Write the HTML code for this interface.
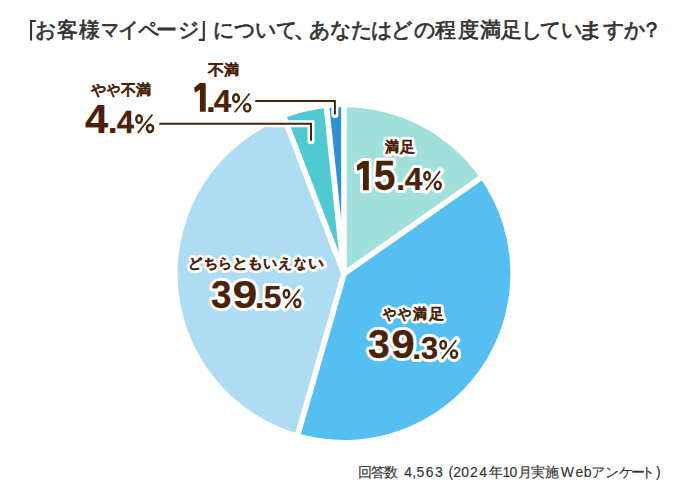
<!DOCTYPE html>
<html lang="ja"><head><meta charset="utf-8"><title>お客様マイページ満足度</title>
<style>
html,body{margin:0;padding:0;background:#fff;}
body{width:688px;height:488px;overflow:hidden;position:relative;font-family:"Liberation Sans",sans-serif;}
svg{position:absolute;left:0;top:0;font-family:"Liberation Sans",sans-serif;}
</style></head><body>
<svg width="688" height="488" viewBox="0 0 688 488">
<text x="35.20 56.50 79.10 118.30 137.60 156.30 178.20 212.70 233.50 254.90 275.60 309.20 330.00 350.80 370.60 390.50 413.70 434.60 458.00 479.50 500.60 520.50 539.80 561.00 603.10 623.80 640.80" y="37.0" font-size="21" font-weight="400" fill="#333333" stroke="#333333" stroke-width="0.7">お客様イページについてあなたはどの程度満足していすか？</text><text transform="matrix(0.853 0 0 1 101.15 37.0)" font-size="21" font-weight="400" fill="#333333" stroke="#333333" stroke-width="0.7">マ</text><text transform="matrix(1.220 0 0 1 292.96 37.0)" font-size="21" font-weight="400" fill="#333333" stroke="#333333" stroke-width="0.7">、</text><text transform="matrix(1.292 0 0 1 577.23 37.0)" font-size="21" font-weight="400" fill="#333333" stroke="#333333" stroke-width="0.7">ま</text><path d="M30,20 H35.8 V22.1 H32.1 V40.6 H30 Z M202.8,20.9 H204.9 V40.9 H198.8 V38.8 H202.8 Z" fill="#333333"/>
<path d="M344.0,273.6 L344.00,107.20 A166.4,166.4 0 0 1 480.31,178.16 Z" fill="#a1dfda"/>
<path d="M344.0,273.6 L480.31,178.16 A166.4,166.4 0 0 1 298.13,433.55 Z" fill="#56bff1"/>
<path d="M344.0,273.6 L298.13,433.55 A166.4,166.4 0 0 1 284.37,118.25 Z" fill="#addcf3"/>
<path d="M344.0,273.6 L284.37,118.25 A166.4,166.4 0 0 1 326.61,108.11 Z" fill="#51c9d3"/>
<path d="M344.0,273.6 L326.61,108.11 A166.4,166.4 0 0 1 344.00,107.20 Z" fill="#308fd9"/>
<g stroke="#fff" stroke-width="5.7">
<line x1="344.0" y1="273.6" x2="344.00" y2="101.20"/>
<line x1="344.0" y1="273.6" x2="485.22" y2="174.72"/>
<line x1="344.0" y1="273.6" x2="296.48" y2="439.32"/>
<line x1="344.0" y1="273.6" x2="282.22" y2="112.65"/>
<line x1="344.0" y1="273.6" x2="325.98" y2="102.14"/>
</g>
<g fill="none">
<path d="M255.2,100.9 H334.9 V114.6" stroke="#fff" stroke-width="7" stroke-linecap="round"/>
<path d="M159.3,123.8 H311 V140.7" stroke="#fff" stroke-width="7" stroke-linecap="round"/>
<path d="M255.2,100.9 H334.9 V114.6" stroke="#4a2208" stroke-width="2"/>
<path d="M159.3,123.8 H311 V140.7" stroke="#4a2208" stroke-width="2"/>
</g>
<text x="224.10" y="75.2" font-size="15" font-weight="400" fill="#4a2208" stroke="#4a2208" stroke-width="0.9">満</text><text transform="matrix(1.071 0 0 1 208.00 75.2)" font-size="15" font-weight="400" fill="#4a2208" stroke="#4a2208" stroke-width="0.9">不</text>
<text x="90.50 121.00 136.30" y="95.4" font-size="15" font-weight="400" fill="#4a2208" stroke="#4a2208" stroke-width="0.9">や不満</text><text transform="matrix(0.873 0 0 1 106.80 95.4)" font-size="15" font-weight="400" fill="#4a2208" stroke="#4a2208" stroke-width="0.9">や</text>
<text x="400.30" y="151.5" font-size="15" font-weight="400" fill="#fff" stroke="#fff" stroke-width="6.4" stroke-linejoin="round">足</text><text transform="matrix(0.927 0 0 1 385.00 151.5)" font-size="15" font-weight="400" fill="#fff" stroke="#fff" stroke-width="6.4" stroke-linejoin="round">満</text><text x="400.30" y="151.5" font-size="15" font-weight="400" fill="#4a2208" stroke="#4a2208" stroke-width="0.9">足</text><text transform="matrix(0.927 0 0 1 385.00 151.5)" font-size="15" font-weight="400" fill="#4a2208" stroke="#4a2208" stroke-width="0.9">満</text>
<text x="188.30 204.00 217.80 263.00 277.80" y="268.4" font-size="14" font-weight="400" fill="#fff" stroke="#fff" stroke-width="6.4" stroke-linejoin="round">どちらいえ</text><text transform="matrix(1.160 0 0 1 232.18 268.4)" font-size="14" font-weight="400" fill="#fff" stroke="#fff" stroke-width="6.4" stroke-linejoin="round">と</text><text transform="matrix(1.160 0 0 1 246.98 268.4)" font-size="14" font-weight="400" fill="#fff" stroke="#fff" stroke-width="6.4" stroke-linejoin="round">も</text><text transform="matrix(0.892 0 0 1 293.50 268.4)" font-size="14" font-weight="400" fill="#fff" stroke="#fff" stroke-width="6.4" stroke-linejoin="round">な</text><text transform="matrix(1.138 0 0 1 308.16 268.4)" font-size="14" font-weight="400" fill="#fff" stroke="#fff" stroke-width="6.4" stroke-linejoin="round">い</text><text x="188.30 204.00 217.80 263.00 277.80" y="268.4" font-size="14" font-weight="400" fill="#4a2208" stroke="#4a2208" stroke-width="0.9">どちらいえ</text><text transform="matrix(1.160 0 0 1 232.18 268.4)" font-size="14" font-weight="400" fill="#4a2208" stroke="#4a2208" stroke-width="0.9">と</text><text transform="matrix(1.160 0 0 1 246.98 268.4)" font-size="14" font-weight="400" fill="#4a2208" stroke="#4a2208" stroke-width="0.9">も</text><text transform="matrix(0.892 0 0 1 293.50 268.4)" font-size="14" font-weight="400" fill="#4a2208" stroke="#4a2208" stroke-width="0.9">な</text><text transform="matrix(1.138 0 0 1 308.16 268.4)" font-size="14" font-weight="400" fill="#4a2208" stroke="#4a2208" stroke-width="0.9">い</text>
<text x="429.00" y="319.1" font-size="15" font-weight="400" fill="#fff" stroke="#fff" stroke-width="6.4" stroke-linejoin="round">足</text><text transform="matrix(0.880 0 0 1 383.20 319.1)" font-size="15" font-weight="400" fill="#fff" stroke="#fff" stroke-width="6.4" stroke-linejoin="round">や</text><text transform="matrix(0.887 0 0 1 398.10 319.1)" font-size="15" font-weight="400" fill="#fff" stroke="#fff" stroke-width="6.4" stroke-linejoin="round">や</text><text transform="matrix(0.920 0 0 1 413.00 319.1)" font-size="15" font-weight="400" fill="#fff" stroke="#fff" stroke-width="6.4" stroke-linejoin="round">満</text><text x="429.00" y="319.1" font-size="15" font-weight="400" fill="#4a2208" stroke="#4a2208" stroke-width="0.9">足</text><text transform="matrix(0.880 0 0 1 383.20 319.1)" font-size="15" font-weight="400" fill="#4a2208" stroke="#4a2208" stroke-width="0.9">や</text><text transform="matrix(0.887 0 0 1 398.10 319.1)" font-size="15" font-weight="400" fill="#4a2208" stroke="#4a2208" stroke-width="0.9">や</text><text transform="matrix(0.920 0 0 1 413.00 319.1)" font-size="15" font-weight="400" fill="#4a2208" stroke="#4a2208" stroke-width="0.9">満</text>
<g><path d="M199.90,83.10 H205.70 V111.70 H199.90 V89.82 L194.80,92.82 L194.20,87.39 Z" fill="#4a2208"/><text transform="matrix(0.3500 0 0 0.3067 206.05 111.80)" font-size="100" font-weight="700" fill="#4a2208" stroke="#4a2208" stroke-width="0.76">.</text><text transform="matrix(0.3151 0 0 0.3159 213.77 112.00)" font-size="100" font-weight="700" fill="#4a2208" stroke="#4a2208" stroke-width="0.79">4</text><g fill="none" stroke="#4a2208"><ellipse cx="236.03" cy="98.13" rx="2.84" ry="3.92" stroke-width="2.4"/><ellipse cx="247.22" cy="107.64" rx="3.10" ry="3.76" stroke-width="2.4"/><line x1="249.59" y1="93.48" x2="234.81" y2="112.30" stroke-width="1.7" stroke-linecap="butt"/></g></g>
<g><text transform="matrix(0.4170 0 0 0.4101 85.07 132.70)" font-size="100" font-weight="700" fill="#4a2208" stroke="#4a2208" stroke-width="0.60">4</text><text transform="matrix(0.3500 0 0 0.3267 107.75 132.70)" font-size="100" font-weight="700" fill="#4a2208" stroke="#4a2208" stroke-width="0.74">.</text><text transform="matrix(0.3113 0 0 0.3159 116.78 132.80)" font-size="100" font-weight="700" fill="#4a2208" stroke="#4a2208" stroke-width="0.80">4</text><g fill="none" stroke="#4a2208"><ellipse cx="139.07" cy="119.09" rx="2.80" ry="3.82" stroke-width="2.4"/><ellipse cx="150.09" cy="128.35" rx="3.05" ry="3.67" stroke-width="2.4"/><line x1="152.43" y1="114.56" x2="137.88" y2="132.90" stroke-width="1.7" stroke-linecap="butt"/></g></g>
<g><path d="M363.00,161.00 H368.80 V190.30 H363.00 V167.89 L357.30,170.96 L356.70,165.40 Z" fill="#fff" stroke="#fff" stroke-width="6" stroke-linejoin="round"/><text transform="matrix(0.3900 0 0 0.4186 373.83 189.88)" font-size="100" font-weight="700" fill="#fff" stroke="#fff" stroke-linejoin="round" stroke-width="15.47">5</text><text transform="matrix(0.3214 0 0 0.3133 396.25 189.50)" font-size="100" font-weight="700" fill="#fff" stroke="#fff" stroke-linejoin="round" stroke-width="19.69">.</text><text transform="matrix(0.3208 0 0 0.3203 404.86 189.80)" font-size="100" font-weight="700" fill="#fff" stroke="#fff" stroke-linejoin="round" stroke-width="19.50">4</text><g fill="none" stroke="#fff"><ellipse cx="427.07" cy="175.90" rx="2.71" ry="3.90" stroke-width="8.4"/><ellipse cx="437.74" cy="185.36" rx="2.95" ry="3.74" stroke-width="8.4"/><line x1="440.01" y1="171.28" x2="425.91" y2="190.00" stroke-width="7.7" stroke-linecap="round"/></g><path d="M363.00,161.00 H368.80 V190.30 H363.00 V167.89 L357.30,170.96 L356.70,165.40 Z" fill="#4a2208"/><text transform="matrix(0.3900 0 0 0.4186 373.83 189.88)" font-size="100" font-weight="700" fill="#4a2208" stroke="#4a2208" stroke-width="0.62">5</text><text transform="matrix(0.3214 0 0 0.3133 396.25 189.50)" font-size="100" font-weight="700" fill="#4a2208" stroke="#4a2208" stroke-width="0.79">.</text><text transform="matrix(0.3208 0 0 0.3203 404.86 189.80)" font-size="100" font-weight="700" fill="#4a2208" stroke="#4a2208" stroke-width="0.78">4</text><g fill="none" stroke="#4a2208"><ellipse cx="427.07" cy="175.90" rx="2.71" ry="3.90" stroke-width="2.4"/><ellipse cx="437.74" cy="185.36" rx="2.95" ry="3.74" stroke-width="2.4"/><line x1="440.01" y1="171.28" x2="425.91" y2="190.00" stroke-width="1.7" stroke-linecap="butt"/></g></g>
<g><text transform="matrix(0.3680 0 0 0.3944 210.96 308.01)" font-size="100" font-weight="700" fill="#fff" stroke="#fff" stroke-linejoin="round" stroke-width="16.41">3</text><text transform="matrix(0.4458 0 0 0.3944 232.42 307.61)" font-size="100" font-weight="700" fill="#fff" stroke="#fff" stroke-linejoin="round" stroke-width="14.91">9</text><text transform="matrix(0.3500 0 0 0.3200 254.85 307.70)" font-size="100" font-weight="700" fill="#fff" stroke="#fff" stroke-linejoin="round" stroke-width="18.68">.</text><text transform="matrix(0.3180 0 0 0.3114 263.65 307.59)" font-size="100" font-weight="700" fill="#fff" stroke="#fff" stroke-linejoin="round" stroke-width="19.86">5</text><g fill="none" stroke="#fff"><ellipse cx="286.44" cy="293.87" rx="2.77" ry="3.88" stroke-width="8.4"/><ellipse cx="297.34" cy="303.28" rx="3.02" ry="3.72" stroke-width="8.4"/><line x1="299.66" y1="289.28" x2="285.25" y2="307.90" stroke-width="7.7" stroke-linecap="round"/></g><text transform="matrix(0.3680 0 0 0.3944 210.96 308.01)" font-size="100" font-weight="700" fill="#4a2208" stroke="#4a2208" stroke-width="0.66">3</text><text transform="matrix(0.4458 0 0 0.3944 232.42 307.61)" font-size="100" font-weight="700" fill="#4a2208" stroke="#4a2208" stroke-width="0.60">9</text><text transform="matrix(0.3500 0 0 0.3200 254.85 307.70)" font-size="100" font-weight="700" fill="#4a2208" stroke="#4a2208" stroke-width="0.75">.</text><text transform="matrix(0.3180 0 0 0.3114 263.65 307.59)" font-size="100" font-weight="700" fill="#4a2208" stroke="#4a2208" stroke-width="0.79">5</text><g fill="none" stroke="#4a2208"><ellipse cx="286.44" cy="293.87" rx="2.77" ry="3.88" stroke-width="2.4"/><ellipse cx="297.34" cy="303.28" rx="3.02" ry="3.72" stroke-width="2.4"/><line x1="299.66" y1="289.28" x2="285.25" y2="307.90" stroke-width="1.7" stroke-linecap="butt"/></g></g>
<g><text transform="matrix(0.3920 0 0 0.4000 368.02 358.10)" font-size="100" font-weight="700" fill="#fff" stroke="#fff" stroke-linejoin="round" stroke-width="15.78">3</text><text transform="matrix(0.4229 0 0 0.4000 391.21 358.10)" font-size="100" font-weight="700" fill="#fff" stroke="#fff" stroke-linejoin="round" stroke-width="15.20">9</text><text transform="matrix(0.3214 0 0 0.3000 412.15 358.50)" font-size="100" font-weight="700" fill="#fff" stroke="#fff" stroke-linejoin="round" stroke-width="20.13">.</text><text transform="matrix(0.3080 0 0 0.3211 421.08 358.78)" font-size="100" font-weight="700" fill="#fff" stroke="#fff" stroke-linejoin="round" stroke-width="19.87">3</text><g fill="none" stroke="#fff"><ellipse cx="443.14" cy="344.75" rx="2.77" ry="3.86" stroke-width="8.4"/><ellipse cx="454.04" cy="354.11" rx="3.02" ry="3.71" stroke-width="8.4"/><line x1="456.36" y1="340.17" x2="441.95" y2="358.70" stroke-width="7.7" stroke-linecap="round"/></g><text transform="matrix(0.3920 0 0 0.4000 368.02 358.10)" font-size="100" font-weight="700" fill="#4a2208" stroke="#4a2208" stroke-width="0.63">3</text><text transform="matrix(0.4229 0 0 0.4000 391.21 358.10)" font-size="100" font-weight="700" fill="#4a2208" stroke="#4a2208" stroke-width="0.61">9</text><text transform="matrix(0.3214 0 0 0.3000 412.15 358.50)" font-size="100" font-weight="700" fill="#4a2208" stroke="#4a2208" stroke-width="0.81">.</text><text transform="matrix(0.3080 0 0 0.3211 421.08 358.78)" font-size="100" font-weight="700" fill="#4a2208" stroke="#4a2208" stroke-width="0.79">3</text><g fill="none" stroke="#4a2208"><ellipse cx="443.14" cy="344.75" rx="2.77" ry="3.86" stroke-width="2.4"/><ellipse cx="454.04" cy="354.11" rx="3.02" ry="3.71" stroke-width="2.4"/><line x1="456.36" y1="340.17" x2="441.95" y2="358.70" stroke-width="1.7" stroke-linecap="butt"/></g></g>
<text x="357.50 370.60 384.10 404.30 412.30 416.60 425.80 435.00 448.50 453.30 461.20 469.90 479.20 488.80 502.60 509.60 517.80 531.00 545.00 560.80 575.50 583.80 591.10 605.10 618.80 631.00 641.00 656.00" y="476.6" font-size="14" font-weight="400" fill="#333333" stroke="#333333" stroke-width="0.15">回答数4,563(2024年10月実施Webアンケート)</text>
</svg>
</body></html>
